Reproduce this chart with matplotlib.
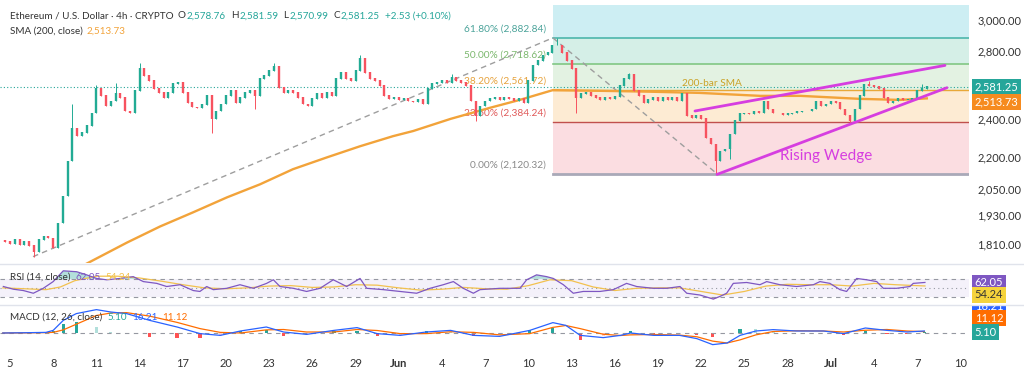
import numpy as np
import matplotlib
matplotlib.use('Agg')
import matplotlib.pyplot as plt
import matplotlib.transforms as mtrans
from matplotlib.lines import Line2D
from matplotlib.ticker import FixedLocator, NullLocator, FuncFormatter

plt.rcParams['font.family'] = ['Lato', 'DejaVu Sans']

# ---- data (8h steps, days counted from May 5) ----
first_open = 1825
closes = [1819, 1810, 1827, 1806, 1819, 1802, 1778, 1827, 1840, 1832,
          1794, 1895, 2015, 2181, 2351, 2309, 2325, 2362, 2432, 2569,
          2528, 2471, 2499, 2540, 2517, 2443, 2432, 2557, 2689, 2646,
          2616, 2569, 2545, 2517, 2545, 2598, 2604, 2545, 2488, 2465,
          2460, 2477, 2528, 2400, 2443, 2482, 2528, 2557, 2488, 2517,
          2545, 2557, 2528, 2628, 2646, 2676, 2702, 2575, 2545, 2557,
          2545, 2517, 2482, 2471, 2511, 2540, 2517, 2545, 2528, 2628,
          2664, 2628, 2616, 2676, 2751, 2664, 2628, 2616, 2586, 2528,
          2511, 2517, 2505, 2511, 2499, 2494, 2505, 2482, 2569, 2598,
          2604, 2616, 2604, 2634, 2616, 2604, 2586, 2499, 2416, 2471,
          2499, 2511, 2517, 2505, 2517, 2511, 2499, 2511, 2488, 2616,
          2708, 2738, 2770, 2788, 2834, 2834, 2788, 2738, 2689, 2517,
          2540, 2545, 2528, 2517, 2505, 2517, 2511, 2522, 2586, 2628,
          2652, 2557, 2528, 2488, 2505, 2517, 2499, 2517, 2505, 2517,
          2499, 2540, 2416, 2405, 2421, 2400, 2298, 2267, 2181, 2231,
          2242, 2319, 2389, 2427, 2432, 2427, 2443, 2432, 2494, 2454,
          2432, 2432, 2421, 2427, 2432, 2438, 2443, 2443, 2454, 2499,
          2471, 2482, 2499, 2488, 2454, 2421, 2389, 2454, 2528, 2592,
          2586, 2580, 2569, 2517, 2488, 2499, 2511, 2505, 2505, 2511,
          2557, 2569, 2581.25]
hi_idx = [14, 19, 23, 28, 56, 74, 93, 115, 130, 180, 191]
hi_val = [2482, 2590, 2604, 2720, 2720, 2775, 2658, 2882, 2664, 2616, 2598]
lo_idx = [6, 43, 52, 98, 119, 148, 151, 176]
lo_val = [1758, 2325, 2454, 2389, 2432, 2120, 2191, 2378]

sma_days = [4.2, 4.86, 8.13, 10.42, 12.71, 15.07, 17.36, 19.65, 22.01, 24.31, 26.6,
            28.0, 30.6, 33.3, 35.4, 37.7, 41.0, 44.4, 47.9, 52.1, 54.9, 59.0, 61.8, 63.67]
sma_vals = [1700, 1717, 1815, 1882, 1943, 2010, 2070, 2142, 2200, 2256, 2308,
            2335, 2400, 2460, 2505, 2561, 2557, 2552, 2545, 2528, 2528, 2511, 2505, 2513.73]

fib_names = ['0.00%', '23.60%', '38.20%', '50.00%', '61.80%']
fib_vals = [2120.32, 2384.24, 2561.72, 2718.62, 2882.84]
fib_top = 3483.0

rsi_days = [-0.46, 0.23, 0.93, 1.62, 2.31, 3.0, 3.7, 4.63, 5.32, 6.02, 6.71, 7.64,
            8.56, 9.26, 10.19, 10.88, 11.81, 12.73, 13.19, 13.66, 14.12, 15.05,
            15.97, 16.9, 17.82, 18.29, 18.75, 19.68, 20.6, 21.53, 22.45, 23.38,
            24.31, 24.77, 25.93, 27.08, 28.24, 29.17, 30.09, 30.79, 31.48, 32.18,
            32.64, 34.03, 35.42, 35.88, 36.57, 37.27, 37.73, 38.43, 39.12, 39.81,
            40.97, 41.9, 42.82, 43.52, 44.68, 45.6, 46.53, 47.0, 47.92, 48.84,
            49.31, 49.77, 50.23, 51.16, 52.08, 52.55, 53.47, 54.63, 55.79, 56.25,
            56.94, 57.64, 58.1, 58.8, 59.49, 60.19, 60.65, 61.57, 62.5, 62.73, 63.54]
rsi_vals = [53, 47, 44, 38, 49, 64, 88, 86, 79, 71, 68, 71,
            75, 64, 60, 53, 57, 44, 42, 53, 46, 49,
            57, 49, 60, 68, 53, 49, 42, 49, 68, 53,
            71, 49, 46, 42, 38, 49, 57, 64, 49, 38,
            46, 49, 49, 68, 79, 75, 71, 57, 38, 42,
            42, 46, 60, 53, 49, 49, 53, 38, 34, 25,
            31, 38, 60, 62, 57, 64, 57, 53, 57, 64,
            60, 46, 42, 71, 68, 64, 49, 49, 53, 60, 62.05]
rsi_ma_days = [-0.5, 1, 2.5, 3.5, 4.5, 6, 7.5, 9, 10.5, 12, 13.5, 15, 16.5, 18, 19.5,
               21, 22.5, 24, 25.5, 27, 28.5, 30, 31.5, 33, 34.5, 36, 37.5, 39, 40.5,
               42, 43.5, 45, 46.5, 48, 49.5, 51, 52.5, 54, 55.5, 57, 58.5, 60, 61.5, 63.54]
rsi_ma_vals = [50, 48, 46, 52, 66, 76, 76, 72, 65, 57, 50, 48, 50, 54, 55,
               51, 52, 57, 56, 50, 45, 47, 51, 48, 47, 55, 68, 66, 52,
               44, 49, 50, 50, 42, 34, 42, 54, 58, 57, 57, 54, 60, 57, 54.24]

macd_days = [-0.5, 1, 2.5, 3, 3.7, 4.6, 6, 7, 8.1, 9.7, 11.6, 13.2, 14.6, 16, 17.8,
             19, 20.6, 22.5, 24.1, 25.5, 27.1, 28.9, 30.6, 32.2, 34, 36.1, 37.7,
             38.6, 39.6, 41.2, 42.4, 43.1, 44.7, 46.5, 47.7, 48.8, 49.8, 50.7, 51.8,
             53, 54.6, 56.5, 57.9, 59.4, 60.9, 62.3, 63.5]
macd_vals = [0, 2, 5, 21, 101, 155, 187, 168, 155, 101, 48, -5, -19, 16, 48,
             8, -11, 21, 43, -5, -19, 8, 21, -19, -27, 21, 83,
             61, -19, -37, -19, 0, -19, -19, -45, -93, -80, -19, 16,
             27, 16, 16, -5, 40, 21, 8, 16.21]
signal_vals = [0, 1, 3, 5, 25, 70, 140, 160, 163, 135, 85, 35, 5, 0, 25,
               28, 8, 8, 28, 20, -5, -5, 10, 5, -15, -5, 45,
               60, 35, -10, -20, -15, -12, -17, -30, -65, -80, -55, -15,
               12, 18, 16, 8, 22, 28, 16, 11.12]

tick_days = [0, 3, 6, 9, 12, 15, 18, 21, 24, 27, 30, 33, 36, 39, 42, 45, 48, 51, 54, 57, 60, 63, 66]
tick_labels = ['5', '8', '11', '14', '17', '20', '23', '26', '29', 'Jun', '4', '7', '10',
               '13', '16', '19', '22', '25', '28', 'Jul', '4', '7', '10']
price_ticks = [1810, 1930, 2050, 2200, 2400, 2800, 3000]

# ---- layout helpers (pixel -> figure fraction) ----
W, H = 1024, 374
def fx(px):
    return px / W
def fy(py):
    return 1 - py / H

GREEN = '#22ab94'
RED = '#f7525f'
TEAL = '#26a69a'
xlim = (-0.694, 66.6)

fig = plt.figure(figsize=(10.24, 3.74), dpi=100)
fig.patch.set_facecolor('white')
ax = fig.add_axes([0, fy(263), 969 / W, (263 - 5) / H])
ax_rsi = fig.add_axes([0, fy(304), 969 / W, (304 - 265) / H])
ax_macd = fig.add_axes([0, fy(350), 969 / W, (350 - 305) / H])

for a in (ax, ax_rsi, ax_macd):
    a.set_xlim(xlim)
    for s in a.spines.values():
        s.set_visible(False)
    a.set_xticks([])
    a.set_yticks([])

# ---- main price panel ----
ax.set_yscale('log')
ax.set_ylim(1733, 3104)

fib_x0 = 37.7
zone_cols = ['#fbdde1', '#fdebd3', '#e3f2e2', '#d5efe7', '#cdeef3']
zone_edges = fib_vals + [fib_top]
for k in range(5):
    ax.fill_between([fib_x0, xlim[1]], zone_edges[k], zone_edges[k + 1],
                    color=zone_cols[k], lw=0, zorder=0)
line_cols = ['#a9a9b8', '#c0504d', '#e8a838', '#81c784', '#4db6ac']
line_w = [2.0, 1.0, 1.0, 1.2, 1.2]
label_cols = ['#8a8a8a', '#e05a5a', '#e6a23c', '#7cb86e', '#4ba39a']
for k in range(5):
    ax.plot([fib_x0, xlim[1]], [fib_vals[k]] * 2, color=line_cols[k], lw=line_w[k], zorder=1)
    ax.annotate('%s (%s)' % (fib_names[k], format(fib_vals[k], ',.2f')),
                xy=(fib_x0, fib_vals[k]), xytext=(-5, 3), textcoords='offset points',
                ha='right', va='bottom', fontsize=7.3, color=label_cols[k], zorder=2)

ax.axhline(closes[-1], color=TEAL, ls=(0, (1, 2)), lw=0.8, zorder=3)

# trend lines
ax.plot([1.6, fib_x0], [lo_val[0], hi_val[7]], color='#9e9e9e', ls=(0, (4, 3)), lw=1, zorder=3)
ax.plot([fib_x0, 49.1], [hi_val[7], lo_val[5]], color='#9e9e9e', ls=(0, (4, 3)), lw=1, zorder=3)

ax.plot(sma_days, sma_vals, color='#f2a33a', lw=1.7, zorder=4)

# candles
opens = [first_open] + closes[:-1]
n = len(closes)
days = np.arange(n) / 3.0 - 1 / 3.0
highs = [max(o, c) for o, c in zip(opens, closes)]
lows = [min(o, c) for o, c in zip(opens, closes)]
for i, v in zip(hi_idx, hi_val):
    highs[i] = v
for i, v in zip(lo_idx, lo_val):
    lows[i] = v
cols = [GREEN if c >= o else RED for o, c in zip(opens, closes)]
ax.vlines(days, lows, highs, colors=cols, lw=0.7, zorder=5)
ax.vlines(days, [min(o, c) for o, c in zip(opens, closes)],
          [max(o, c) * 1.001 for o, c in zip(opens, closes)], colors=cols, lw=1.7, zorder=5)

# rising wedge
ax.plot([47.57, 64.93], [2443, 2708], color='#d63ee0', lw=2, zorder=6, solid_capstyle='round')
ax.plot([49.1, 65.07], [2117, 2575], color='#d63ee0', lw=2, zorder=6, solid_capstyle='round')
ax.text(56.7, 2206, 'Rising Wedge', color='#d63ee0', fontsize=11, ha='center', va='center', zorder=7)
ax.text(48.75, 2600, '200-bar SMA', color='#c9a227', fontsize=7.3, ha='center', va='center', zorder=7)

# right price axis
ax.yaxis.tick_right()
ax.yaxis.set_major_locator(FixedLocator(price_ticks))
ax.yaxis.set_minor_locator(NullLocator())
ax.yaxis.set_major_formatter(FuncFormatter(lambda v, p: format(v, ',.2f')))
ax.tick_params(axis='y', length=0, pad=6, labelsize=8, labelcolor='#333333')

def tag(axis, y, txt, bg, fg='white'):
    tr = mtrans.blended_transform_factory(axis.transAxes, axis.transData)
    return axis.text(1.006, y, txt, transform=tr, ha='left', va='center', fontsize=8, color=fg,
                     bbox=dict(boxstyle='square,pad=0.22', fc=bg, ec='none'), clip_on=False, zorder=10)

tag(ax, 2581.25, '2,581.25', TEAL)
tag(ax, 2513.73 * 0.992, '2,513.73', '#f68b1f')

# ---- RSI panel ----
ax_rsi.set_ylim(14, 101)
ax_rsi.fill_between(xlim, 30, 70, color='#7e57c2', alpha=0.08, lw=0)
for lv, st in [(70, (0, (4, 4))), (30, (0, (4, 4))), (50, (0, (1, 3)))]:
    ax_rsi.axhline(lv, color='#9598a1', ls=st, lw=0.8)
rv = np.array(rsi_vals, dtype=float)
ax_rsi.fill_between(rsi_days, 70, rv, where=rv > 70, interpolate=True, color='#26a69a', alpha=0.35, lw=0)
ax_rsi.fill_between(rsi_days, 30, rv, where=rv < 30, interpolate=True, color='#f23645', alpha=0.35, lw=0)
ax_rsi.plot(rsi_ma_days, rsi_ma_vals, color='#f2c14e', lw=0.9)
ax_rsi.plot(rsi_days, rsi_vals, color='#7e57c2', lw=0.9)
tag(ax_rsi, 62, '62.05', '#7e57c2')
tag(ax_rsi, 35, '54.24', '#f5d33c', fg='#333333')

# ---- MACD panel ----
ax_macd.set_ylim(-136, 224)
ax_macd.axhline(0, color='#9598a1', ls=(0, (4, 4)), lw=0.8)
hist = np.array(macd_vals) - np.array(signal_vals)
hcols = []
for k, h in enumerate(hist):
    prev = hist[k - 1] if k > 0 else 0
    if h >= 0:
        hcols.append('#26a69a' if h >= prev else '#b2dfdb')
    else:
        hcols.append('#ff5252' if h <= prev else '#ffcdd2')
ax_macd.bar(macd_days, hist, width=0.22, color=hcols, lw=0)
ax_macd.plot(macd_days, signal_vals, color='#ff6d00', lw=0.9)
ax_macd.plot(macd_days, macd_vals, color='#2962ff', lw=0.9)
# the blue tag is squeezed against the top of the pane, only its lower half shows
t_blue = tag(ax_macd, 212, '16.21', '#2962ff')
t_blue.set_clip_box(mtrans.TransformedBbox(mtrans.Bbox([[0.9, 0.0], [1.0, fy(305.5)]]), fig.transFigure))
t_blue.set_clip_on(True)
tag(ax_macd, 120, '11.12', '#ff6d00')
tag(ax_macd, 8, '5.10', TEAL)

ax_macd.set_xticks(tick_days)
ax_macd.set_xticklabels(tick_labels)
ax_macd.tick_params(axis='x', length=0, pad=6, labelsize=8, labelcolor='#333333')
for lab in ax_macd.get_xticklabels():
    if lab.get_text() in ('Jun', 'Jul'):
        lab.set_fontweight('bold')

# ---- separators and legends ----
for py in (264, 304.5):
    fig.add_artist(Line2D([0, 1], [fy(py), fy(py)], color='#e0e3eb', lw=1))

renderer = fig.canvas.get_renderer()

def legend_row(pieces, px, py, fs=7.1):
    # pieces: (text, colour, gap in px after it)
    for txt, col, gap in pieces:
        t = fig.text(fx(px), fy(py), txt, fontsize=fs, color=col, va='center')
        px += t.get_window_extent(renderer=renderer).width + gap

DARK = '#333333'
legend_row([('Ethereum / U.S. Dollar \u00b7 4h \u00b7 CRYPTO', DARK, 4),
            ('O', DARK, 1), ('2,578.76', TEAL, 5),
            ('H', DARK, 1), ('2,581.59', TEAL, 5),
            ('L', DARK, 1), ('2,570.99', TEAL, 5),
            ('C', DARK, 1), ('2,581.25', TEAL, 5),
            ('+2.53 (+0.10%)', TEAL, 0)], 10, 16)
legend_row([('SMA (200, close)', DARK, 4), ('2,513.73', '#f2a33a', 0)], 10, 31)
legend_row([('RSI (14, close)', DARK, 5), ('62.05', '#7e57c2', 5), ('54.24', '#f2c14e', 0)], 10, 277)
legend_row([('MACD (12, 26, close)', DARK, 5), ('5.10', TEAL, 5), ('16.21', '#2962ff', 5),
            ('11.12', '#ff6d00', 0)], 10, 317)

fig.savefig('out.png', dpi=100)
